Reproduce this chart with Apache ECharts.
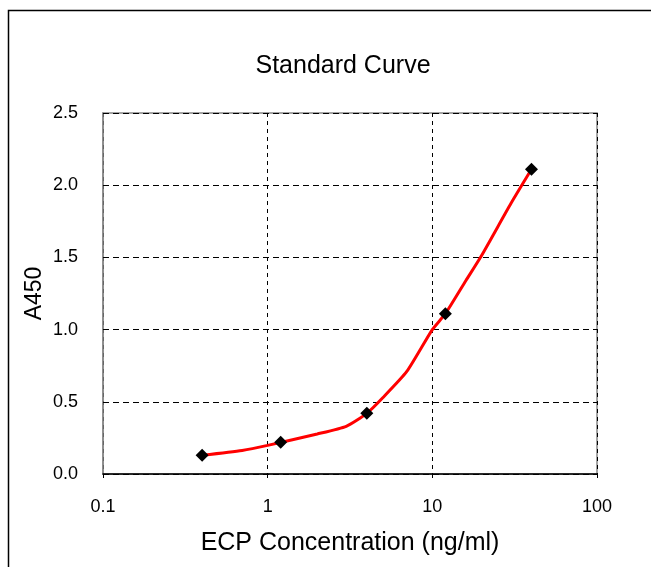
<!DOCTYPE html>
<html>
<head>
<meta charset="utf-8">
<script src="https://cdn.jsdelivr.net/npm/echarts@6/dist/echarts.min.js"></script>
<style>
html,body{margin:0;padding:0;background:#fff;}
#chart{width:651px;height:567px;}
</style>
</head>
<body>
<div id="chart"></div>
<script>
// Measured standards
const concentrations = [0.4, 1.2, 4, 12, 40];
const absorbances = [0.13, 0.22, 0.42, 1.11, 2.11];
// Fitted curve
const curveX = [0.4, 0.7, 1, 2, 3, 4, 5, 7, 10, 12, 16, 20, 30, 40];
const curveY = [0.13, 0.163, 0.198, 0.277, 0.33, 0.42, 0.528, 0.71, 1.0, 1.11, 1.34, 1.517, 1.873, 2.11];
const yTicks = [0, 0.5, 1.0, 1.5, 2.0, 2.5];
const xTicks = [0.1, 1, 10, 100];

const FONT = '"Liberation Sans", Arial, sans-serif';
const chart = echarts.init(document.getElementById('chart'), null, {renderer: 'canvas'});
chart.setOption({
  animation: false,
  backgroundColor: '#fff',
  title: {
    text: 'Standard Curve',
    left: 338, top: 49, textAlign: 'center',
    textStyle: {fontFamily: FONT, fontSize: 25, fontWeight: 'normal', color: '#000'}
  },
  graphic: [{
    type: 'polyline',
    shape: {points: [[8.5, 567], [8.5, 10.5], [651, 10.5]]},
    style: {stroke: '#000', lineWidth: 1.5, fill: null}
  }],
  grid: {
    left: 103, right: 54, top: 113, bottom: 93,
    show: true, borderColor: '#888', borderWidth: 1.5, backgroundColor: '#fff'
  },
  xAxis: {
    type: 'log', logBase: 10, min: xTicks[0], max: xTicks[xTicks.length - 1],
    name: 'ECP Concentration (ng/ml)', nameLocation: 'middle', nameGap: 57,
    nameMoveOverlap: false,
    nameTextStyle: {fontFamily: FONT, fontSize: 25, color: '#000'},
    axisLine: {show: true, lineStyle: {color: '#000', width: 1.5}},
    axisTick: {show: true, length: 4, lineStyle: {color: '#000'}},
    minorTick: {show: false},
    axisLabel: {fontFamily: FONT, fontSize: 18, color: '#000', margin: 24,
      formatter: v => String(+v.toPrecision(3))},
    splitLine: {show: true, lineStyle: {color: '#000', type: [4, 4], width: 1}}
  },
  yAxis: {
    type: 'value', min: yTicks[0], max: yTicks[yTicks.length - 1], interval: 0.5,
    name: 'A450', nameLocation: 'middle', nameGap: 57, nameRotate: 90,
    nameMoveOverlap: false,
    nameTextStyle: {fontFamily: FONT, fontSize: 23, color: '#000'},
    axisLine: {show: true, lineStyle: {color: '#888', width: 1.5}},
    axisTick: {show: true, inside: true, length: 4, lineStyle: {color: '#000'}},
    axisLabel: {fontFamily: FONT, fontSize: 18, color: '#000', margin: 25,
      formatter: v => v.toFixed(1)},
    splitLine: {show: true, lineStyle: {color: '#000', type: [6, 4], width: 1}}
  },
  series: [{
    type: 'line',
    data: curveX.map((x, i) => [x, curveY[i]]),
    showSymbol: false,
    smooth: 0.2,
    lineStyle: {color: '#ff0000', width: 3},
    z: 2
  }, {
    type: 'scatter',
    data: concentrations.map((x, i) => [x, absorbances[i]]),
    symbol: 'diamond',
    symbolSize: 13,
    itemStyle: {color: '#000', opacity: 1},
    z: 3
  }]
});
</script>
</body>
</html>
